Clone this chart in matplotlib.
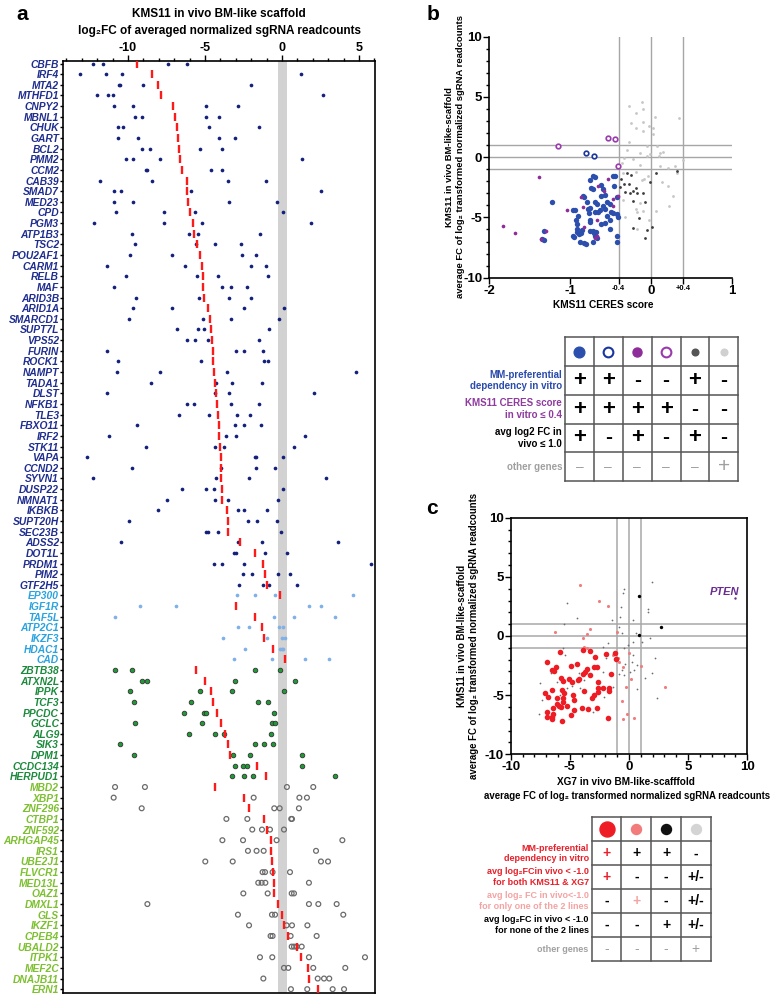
import matplotlib
matplotlib.use("Agg")
import matplotlib.pyplot as plt
import numpy as np
from matplotlib.ticker import MultipleLocator

plt.rcParams["font.family"] = ["Liberation Sans", "DejaVu Sans"]
plt.rcParams["font.weight"] = "bold"

# ---------------- panel a data (log2FC per sgRNA, and mean dash) ----------------
genes_navy = ["CBFB", "IRF4", "MTA2", "MTHFD1", "CNPY2", "MBNL1", "CHUK", "GART", "BCL2", "PMM2",
              "CCM2", "CAB39", "SMAD7", "MED23", "CPD", "PGM3", "ATP1B3", "TSC2", "POU2AF1", "CARM1",
              "RELB", "MAF", "ARID3B", "ARID1A", "SMARCD1", "SUPT7L", "VPS52", "FURIN", "ROCK1", "NAMPT",
              "TADA1", "DLST", "NFKB1", "TLE3", "FBXO11", "IRF2", "STK11", "VAPA", "CCND2", "SYVN1",
              "DUSP22", "NMNAT1", "IKBKB", "SUPT20H", "SEC23B", "ADSS2", "DOT1L", "PRDM1", "PIM2", "GTF2H5"]
sg_navy = [
    [-12.29, -11.65, -7.38, -6.19], [-13.1, -11.4, -10.4, 1.21], [-10.6, -10.5, -9.0, -2.0],
    [-12.0, -11.3, -10.95, 2.68], [-10.9, -9.68, -4.96, -2.86], [-9.55, -9.07, -4.94, -4.07],
    [-10.65, -10.35, -4.74, -1.49], [-10.63, -9.37, -4.07, -3.05], [-9.11, -8.57, -5.32, -3.9],
    [-10.15, -9.68, -7.94, 1.28], [-8.85, -8.77, -4.61, -3.87], [-11.82, -8.42, -3.53, -1.04],
    [-10.93, -10.43, -5.93, 2.51], [-10.89, -9.68, -3.42, -0.35], [-10.8, -7.66, -5.65, 0.04],
    [-12.2, -7.66, -5.22, 1.86], [-9.74, -6.02, -5.43, -1.45], [-9.52, -5.6, -4.33, -2.68],
    [-9.87, -7.16, -2.6, -1.69], [-11.39, -6.3, -2.03, -1.06], [-10.1, -5.5, -4.13, -0.91],
    [-10.9, -3.92, -3.31, -2.29], [-9.5, -5.39, -3.46, -2.03], [-9.68, -7.16, -2.45, 0.15],
    [-9.96, -5.13, -3.29, -0.22], [-6.8, -5.45, -5.09, -0.84], [-6.15, -5.63, -4.81, -1.52],
    [-11.34, -2.97, -2.49, -1.23], [-10.63, -5.26, -1.19, -0.93], [-10.74, -7.94, -3.55, 4.8],
    [-8.5, -4.29, -3.23, -1.28], [-11.39, -4.35, -3.44, 2.08], [-6.17, -5.71, -3.31, -1.49],
    [-6.71, -4.76, -2.9, -2.1], [-9.44, -3.05, -2.49, -1.39], [-11.21, -3.64, -2.99, 1.52],
    [-8.83, -4.33, -3.74, 0.78], [-12.64, -1.75, -1.69, 0.09], [-9.74, -3.98, -1.69, -0.43],
    [-12.25, -4.29, -2.16, 2.88], [-6.52, -4.94, -4.42, 0.09], [-7.45, -4.37, -3.48, -0.24],
    [-8.03, -2.86, -2.45, -0.97], [-9.96, -2.21, -1.62, -0.32], [-4.94, -4.78, -4.13, -0.09],
    [-10.48, -2.84, -1.28, 3.66], [-3.1, -3.0, -1.1, 0.32], [-4.39, -3.9, -2.47, 5.76],
    [-2.55, -1.97, -0.28, 0.54], [-2.81, -1.21, -0.82, 0.95]]
mean_navy = [-9.39, -8.42, -8.03, -7.88, -7.1, -6.93, -6.84, -6.77, -6.71, -6.62,
             -6.52, -6.19, -6.17, -6.08, -6.0, -5.8, -5.69, -5.54, -5.32, -5.22,
             -5.15, -5.11, -5.06, -4.78, -4.68, -4.61, -4.55, -4.5, -4.46, -4.39,
             -4.33, -4.29, -4.2, -4.16, -4.11, -4.07, -4.03, -3.98, -3.96, -3.96,
             -3.92, -3.87, -3.57, -3.53, -3.48, -2.75, -1.75, -1.26, -1.08, -1.0]

genes_lightblue = ["EP300", "IGF1R", "TAF5L", "ATP2C1", "IKZF3", "HDAC1", "CAD"]
sg_lightblue = [
    [-2.94, -1.75, -0.43, 4.59], [-9.2, -6.88, 1.73, 2.51], [-10.84, -0.5, 0.78, 3.46],
    [-2.88, -2.16, -0.17, 0.06], [-3.81, -1.0, 0.0, 0.22], [-2.4, -0.1, -0.02, 0.09],
    [-3.12, -0.67, 1.49, 3.07]]
mean_lightblue = [-0.13, -2.97, -1.77, -1.28, -1.15, -0.61, 0.19]

genes_green = ["ZBTB38", "ATXN2L", "IPPK", "TCF3", "PPCDC", "GCLC", "ALG9", "SIK3", "DPM1",
               "CCDC134", "HERPUD1"]
sg_green = [
    [-10.87, -9.72, -1.75, -0.13], [-9.07, -8.79, -3.03, 0.82], [-9.87, -5.3, -3.23, 0.11],
    [-9.59, -5.91, -1.58, -0.89], [-6.39, -5.06, -4.94, -0.54], [-9.55, -5.19, -0.67, -0.45],
    [-6.06, -4.35, -3.77, -0.74], [-10.54, -1.75, -1.15, -0.56], [-9.63, -3.2, -2.1, 1.32],
    [-3.03, -2.51, -2.27, 1.3], [-3.27, -2.49, -1.88, 3.42]]
mean_green = [-5.61, -5.02, -4.59, -4.48, -4.22, -3.98, -3.7, -3.51, -3.4, -1.62, -1.06]

genes_lightgreen = ["MBD2", "XBP1", "ZNF296", "CTBP1", "ZNF592", "ARHGAP45", "IRS1", "UBE2J1",
                    "FLVCR1", "MED13L", "OAZ1", "DMXL1", "GLS", "IKZF1", "CPEB4", "UBALD2",
                    "ITPK1", "MEF2C", "DNAJB11", "ERN1"]
sg_lightgreen = [
    [-10.84, -8.9, 0.32, 2.03], [-10.93, -1.84, 1.13, 1.62], [-9.11, -0.5, -0.15, 1.1],
    [-3.61, -2.25, 0.6, 0.65], [-1.93, -1.3, -0.78, 0.13], [-3.87, -2.53, -0.35, 3.92],
    [-2.21, -1.65, -1.19, 2.21], [-4.98, -3.2, 2.53, 2.99], [-1.26, -1.1, -0.61, 0.52],
    [-1.54, -1.32, -1.08, 1.75], [-2.51, -0.93, 0.63, 0.78], [-8.74, 1.75, 2.36, 3.55],
    [-2.86, -0.65, -0.45, 3.98], [-2.14, 0.3, 0.65, 1.65], [-0.74, -0.61, 0.56, 2.25],
    [0.63, 0.78, 0.95, 1.28], [-1.43, -0.63, 1.75, 5.39], [0.13, 0.41, 2.03, 4.11],
    [-1.21, 2.32, 2.73, 3.07], [0.58, 1.64, 3.29, 4.03]]
mean_lightgreen = [-4.35, -2.49, -2.16, -1.15, -0.97, -0.74, -0.74, -0.65, -0.61, -0.54,
                   -0.52, -0.28, 0.02, 0.13, 0.37, 0.97, 1.23, 1.67, 1.75, 2.36]

# ---------------- panel b data (CERES score, in vivo avg FC) ----------------
b_blue = [(-1.222, -3.71), (-1.317, -6.11), (-1.345, -6.8), (-1.329, -6.86), (-0.97, -4.37),
          (-0.941, -4.37), (-0.9, -4.87), (-0.838, -3.26), (-0.83, -3.32), (-0.784, -4.29),
          (-0.759, -4.2), (-0.714, -1.55), (-0.693, -1.66), (-0.743, -2.52), (-0.722, -2.63),
          (-0.623, -2.3), (-0.598, -2.66), (-0.569, -3.13), (-0.466, -1.52), (-0.446, -1.55),
          (-0.454, -2.43), (-0.425, -3.32), (-0.693, -3.68), (-0.673, -3.87), (-0.549, -3.73),
          (-0.508, -3.87), (-0.59, -4.09), (-0.569, -4.29), (-0.496, -4.51), (-0.466, -4.65),
          (-0.425, -4.73), (-0.413, -4.98), (-0.693, -4.57), (-0.652, -4.57), (-0.549, -4.92),
          (-0.508, -5.2), (-0.565, -5.48), (-0.623, -5.53), (-0.755, -5.2), (-0.755, -5.39),
          (-0.929, -5.2), (-0.92, -5.53), (-0.92, -5.92), (-0.912, -6.17), (-0.953, -6.64),
          (-0.962, -6.53), (-0.887, -6.39), (-0.867, -6.31), (-0.85, -6.03), (-0.879, -7.0),
          (-0.825, -7.14), (-0.805, -7.22), (-0.755, -6.09), (-0.722, -6.09), (-0.701, -6.31),
          (-0.681, -6.22), (-0.689, -6.58), (-0.714, -7.0), (-0.673, -6.67), (-0.508, -5.92),
          (-0.425, -6.58), (-0.425, -7.0), (-0.788, -3.73), (-0.772, -4.65), (-0.631, -4.37),
          (-0.623, -3.21), (-0.755, -1.88)]
b_blue_open = [(-0.805, 0.33), (-0.70, 0.08)]
b_purple = [(-1.387, -1.63), (-1.828, -5.7), (-1.676, -6.28), (-1.3, -6.14), (-1.362, -6.75),
            (-1.036, -4.37), (-0.867, -3.32), (-0.838, -4.15), (-0.826, -5.81), (-0.652, -2.43),
            (-0.582, -2.79), (-0.537, -1.77), (-0.466, -3.46), (-0.466, -4.09), (-0.673, -5.2),
            (-0.664, -6.58), (-0.693, -6.72), (-0.413, -3.26)]
b_purple_open = [(-1.147, 0.97), (-0.528, 1.63), (-0.446, 1.49), (-0.413, -0.72)]
b_dark = [(-0.371, -1.8), (-0.301, -1.33), (-0.248, -1.47), (-0.334, -2.21), (-0.384, -2.49),
          (-0.268, -2.21), (-0.26, -2.93), (-0.318, -2.9), (-0.219, -2.79), (-0.186, -2.57),
          (-0.169, -2.93), (-0.219, -3.6), (-0.103, -2.99), (-0.074, -3.73), (-0.144, -5.06),
          (-0.227, -5.89), (-0.078, -6.67), (-0.045, -6.03), (0.008, -5.81), (-0.012, -2.02),
          (0.062, -1.27), (0.326, -1.13)]
b_light = [(-0.268, 4.29), (-0.111, 4.62), (-0.095, 3.98), (-0.186, 3.65), (-0.103, 2.96),
           (-0.248, 2.82), (-0.19, 2.41), (-0.103, 2.21), (0.05, 3.37), (0.351, 3.24),
           (-0.021, 2.6), (0.029, 2.46), (0.021, 1.94), (-0.268, 1.24), (-0.054, 0.89),
           (0.07, 0.89), (-0.301, 0.61), (-0.136, 0.33), (-0.054, 0.06), (-0.012, 0.25),
           (0.111, 0.33), (0.153, 0.47), (0.099, 0.06), (-0.334, -0.08), (-0.227, -0.17),
           (-0.363, -0.5), (-0.136, -0.64), (0.111, -0.77), (0.215, -0.91), (0.297, -0.77),
           (0.4, -0.22), (0.318, -1.33), (-0.186, -1.19), (-0.116, -1.88), (-0.087, -1.8),
           (-0.041, -1.6), (0.132, -2.02), (0.215, -2.43), (0.268, -3.26), (0.227, -4.09),
           (0.062, -4.43), (-0.136, -3.82), (-0.177, -4.51), (-0.103, -4.46), (-0.322, -4.98),
           (-0.19, -4.32), (-0.169, -5.98), (-0.021, -5.2), (-0.351, -3.54), (-0.342, -1.33)]

tb_labels = ["MM-preferential\ndependency in vitro", "KMS11 CERES score\nin vitro \u2264 0.4",
             "avg log2 FC in\nvivo \u2264 1.0", "other genes"]
tb_signs = [["+", "+", "-", "-", "+", "-"],
            ["+", "+", "+", "+", "-", "-"],
            ["+", "-", "+", "-", "+", "-"],
            ["-", "-", "-", "-", "-", "+"]]

# ---------------- panel c data (XG7 vs KMS11 in vivo avg FC) ----------------
c_red = [(-6.96, -2.23), (-6.48, -2.87), (-6.34, -2.96), (-6.17, -2.59), (-5.83, -1.32),
         (-4.9, -2.51), (-4.42, -2.39), (-3.86, -1.18), (-3.3, -1.27), (-2.93, -2.59),
         (-2.68, -2.65), (-3.58, -2.79), (-3.72, -3.01), (-3.86, -3.18), (-5.04, -3.63),
         (-4.85, -3.92), (-4.28, -3.72), (-4.2, -3.63), (-5.77, -3.52), (-5.55, -3.77),
         (-7.07, -4.85), (-6.85, -5.18), (-6.51, -4.56), (-6.11, -5.27), (-5.66, -4.54),
         (-5.46, -4.85), (-5.55, -5.21), (-5.61, -5.61), (-6.06, -5.77), (-5.89, -5.89),
         (-5.77, -5.97), (-6.45, -6.06), (-6.96, -6.39), (-6.96, -6.82), (-6.54, -6.82),
         (-6.39, -6.62), (-6.48, -7.01), (-5.63, -7.18), (-5.21, -5.89), (-4.7, -4.99),
         (-4.65, -5.41), (-4.93, -6.68), (-4.65, -6.25), (-4.0, -6.06), (-3.49, -6.2),
         (-3.8, -4.62), (-3.15, -5.21), (-2.93, -4.99), (-2.73, -6.11), (-2.59, -3.86),
         (-2.59, -4.37), (-2.59, -4.7), (-2.17, -4.37), (-1.69, -4.42), (-1.66, -4.62),
         (-1.75, -6.96), (-1.97, -1.55), (-1.18, -1.46), (-1.13, -1.97), (-1.55, -3.21),
         (-2.87, -1.8), (-3.3, -3.3)]
c_pink = [(-4.14, 4.31), (-2.51, 2.96), (-1.75, 2.56), (-6.28, 0.37), (-3.3, 0.56),
          (-3.58, 0.14), (-3.86, -0.2), (-3.8, -0.9), (-3.52, -0.99), (-1.04, 0.31),
          (-0.82, -2.17), (-0.48, -2.59), (0.03, -1.46), (0.14, -3.66), (1.01, -2.51),
          (3.04, -4.28), (-0.25, -4.28), (-0.62, -5.46), (-0.14, -6.56), (-0.48, -7.04),
          (0.39, -6.96), (-1.32, -1.61), (-0.9, -1.89)]
c_black = [(0.87, 3.35), (2.68, 0.73), (0.85, 0.08)]
c_gray = [(-5.21, 2.76), (-4.37, 1.49), (-5.46, 0.99), (-0.39, 3.97), (-0.54, 3.61),
          (1.92, 4.59), (-0.7, 2.48), (-0.76, 1.63), (0.37, 1.35), (1.58, 2.28), (1.58, 2.0),
          (-1.44, 1.35), (-0.82, 0.79), (-0.59, 0.23), (0.59, 0.28), (0.37, -0.48),
          (-0.06, -0.76), (-0.42, -1.04), (1.07, -0.48), (1.77, -0.14), (2.2, -1.83),
          (1.92, -3.15), (1.35, -3.58), (0.65, -4.48), (2.34, -5.27), (-1.75, -0.62),
          (-2.17, -0.9), (-1.94, -1.89), (-0.82, -3.24), (-0.42, -3.3), (-1.32, -4.28),
          (-5.55, -0.99), (-5.41, -1.61), (-6.59, -3.15), (-7.52, -3.94), (-7.38, -5.41),
          (-7.58, -6.62), (-5.27, -4.42), (-4.85, -4.23), (-4.23, -3.15), (-4.14, -4.42),
          (-3.77, -3.72), (-2.17, -3.01), (-3.01, -6.39), (-2.73, -4.0), (-2.11, -5.13),
          (-6.11, -3.86), (-5.83, -4.99), (0.37, -1.61), (0.23, -2.17), (0.42, -2.87),
          (0.7, -2.45), (-0.31, -2.39), (-0.62, -2.87), (0.08, -3.01)]
c_pten = (8.96, 3.18)

tc_labels = ["MM-preferential\ndependency in vitro",
             "avg log\u2082FCin vivo < -1.0\nfor both KMS11 & XG7",
             "avg log\u2082 FC in vivo<-1.0\nfor only one of the 2 lines",
             "avg log\u2082FC in vivo < -1.0\nfor none of the 2 lines",
             "other genes"]
tc_signs = [["+", "+", "+", "-"],
            ["+", "-", "-", "+/-"],
            ["-", "+", "-", "+/-"],
            ["-", "-", "+", "+/-"],
            ["-", "-", "-", "+"]]

# ---------------- figure ----------------
W, H = 775, 996


def px_box(x0, y0, x1, y1):
    return [x0 / W, 1 - y1 / H, (x1 - x0) / W, (y1 - y0) / H]


fig = plt.figure(figsize=(W / 100, H / 100), dpi=100)

# ===== panel a =====
ax = fig.add_axes(px_box(63, 61, 375, 993))
ax.axvspan(-0.25, 0.3, color="#d2d2d2", zorder=0, lw=0)

groups = [
    (genes_navy, sg_navy, mean_navy, "#1f2d8f",
     dict(s=7, color="#14207a", lw=0)),
    (genes_lightblue, sg_lightblue, mean_lightblue, "#29a3e0",
     dict(s=7, color="#7fb0e8", lw=0)),
    (genes_green, sg_green, mean_green, "#1b8a3c",
     dict(s=11, color="#1f9a35", edgecolor="#333333", lw=0.6)),
    (genes_lightgreen, sg_lightgreen, mean_lightgreen, "#7dc02f",
     dict(s=12, facecolor="none", edgecolor="#6b6b6b", lw=0.9)),
]

all_labels, label_colors = [], []
row = 0
for genes, dots, means, lab_col, style in groups:
    for g, vals, m in zip(genes, dots, means):
        ax.scatter(vals, [row] * len(vals), zorder=3, **style)
        ax.plot([m], [row], marker="|", ms=5.5, mew=1.7, color="#ff1a1a", zorder=4)
        all_labels.append(g)
        label_colors.append(lab_col)
        row += 1

ax.set_xlim(-14.22, 6.04)
ax.set_ylim(87.36, -0.235)
ax.xaxis.tick_top()
ax.set_xticks([-10, -5, 0, 5])
ax.set_xticklabels(["-10", "-5", "0", "5"], fontsize=9, fontweight="bold")
ax.xaxis.set_minor_locator(MultipleLocator(1))
ax.tick_params(axis="x", which="major", length=4, width=1, pad=1)
ax.tick_params(axis="x", which="minor", length=2.2, width=1)
ax.set_yticks(range(len(all_labels)))
ax.set_yticklabels(all_labels, fontsize=7.4, fontweight="bold", fontstyle="italic")
for t, c in zip(ax.get_yticklabels(), label_colors):
    t.set_color(c)
ax.tick_params(axis="y", length=2, width=1, pad=0.8)
for sp in ax.spines.values():
    sp.set_linewidth(1.2)

fig.text(219 / W, 1 - 14 / H, "KMS11 in vivo BM-like scaffold", ha="center", va="center",
         fontsize=8.5, fontweight="bold")
fig.text(219 / W, 1 - 31 / H, "log\u2082FC of averaged normalized sgRNA readcounts", ha="center",
         va="center", fontsize=8.5, fontweight="bold")
fig.text(22 / W, 1 - 14 / H, "a", ha="center", va="center", fontsize=15, fontweight="bold")

# ===== panel b =====
bx = fig.add_axes(px_box(489.3, 36.7, 731.7, 277.7))
for yv in (-1, 0, 1):
    bx.axhline(yv, color="#a6a6a6", lw=1, zorder=1)
for xv in (-0.4, 0, 0.4):
    bx.axvline(xv, color="#a6a6a6", lw=1, zorder=1)


def xy(pts):
    arr = np.array(pts)
    return arr[:, 0], arr[:, 1]


bx.scatter(*xy(b_light), s=4, color="#c6c6c6", lw=0, zorder=2)
bx.scatter(*xy(b_dark), s=4, color="#3c3c3c", lw=0, zorder=2)
bx.scatter(*xy(b_blue), s=15, color="#2c4fae", lw=0, zorder=3)
bx.scatter(*xy(b_purple), s=7, color="#8e2c9a", lw=0, zorder=4)
bx.scatter(*xy(b_blue_open), s=11, facecolor="white", edgecolor="#1a35a0", lw=1.2, zorder=4)
bx.scatter(*xy(b_purple_open), s=11, facecolor="white", edgecolor="#9a3aae", lw=1.2, zorder=4)

bx.set_xlim(-2, 1)
bx.set_ylim(-10, 10)
bx.spines["top"].set_visible(False)
bx.spines["right"].set_visible(False)
for sp in ("left", "bottom"):
    bx.spines[sp].set_linewidth(1.2)
bx.set_xticks([-2, -1, -0.4, 0, 0.4, 1])
bx.set_xticklabels(["-2", "-1", "-0.4", "0", "+0.4", "1"], fontweight="bold")
for i, t in enumerate(bx.get_xticklabels()):
    t.set_fontsize(5.5 if i in (2, 4) else 9.5)
bx.set_yticks([-10, -5, 0, 5, 10])
bx.set_yticklabels(["-10", "-5", "0", "5", "10"], fontsize=9.5, fontweight="bold")
bx.yaxis.set_minor_locator(MultipleLocator(1))
bx.tick_params(which="major", length=4, width=1, pad=1)
bx.tick_params(which="minor", length=2, width=1)

fig.text(603 / W, 1 - 305 / H, "KMS11 CERES score", ha="center", va="center", fontsize=7.3,
         fontweight="bold")
fig.text(455 / W, 1 - 157 / H,
         "KMS11 in vivo BM-like-scaffold\naverage FC of log\u2082 transformed normalized sgRNA readcounts",
         rotation=90, ha="center", va="center", fontsize=6.8, fontweight="bold",
         multialignment="center")
fig.text(433 / W, 1 - 14 / H, "b", ha="center", va="center", fontsize=15, fontweight="bold")

# ===== table b =====
tbx = fig.add_axes(px_box(565, 337.3, 738.3, 481))
tbx.set_xlim(0, 6)
tbx.set_ylim(5, 0)
tbx.axis("off")
for k in range(7):
    tbx.plot([k, k], [0, 5], color="#555555", lw=1.1, clip_on=False)
for k in range(6):
    tbx.plot([0, 6], [k, k], color="#555555", lw=1.1, clip_on=False)
tbx.plot(0.5, 0.5, "o", ms=7.7, color="#2c4fae")
tbx.plot(1.5, 0.5, "o", ms=7.0, mfc="white", mec="#1a35a0", mew=1.5)
tbx.plot(2.5, 0.5, "o", ms=6.5, color="#8e2c9a")
tbx.plot(3.5, 0.5, "o", ms=7.0, mfc="white", mec="#9a3aae", mew=1.5)
tbx.plot(4.5, 0.5, "o", ms=4.8, color="#555555")
tbx.plot(5.5, 0.5, "o", ms=4.8, color="#d0d0d0")
tb_colors = ["#2a4bab", "#8e3a9e", "black", "#a0a0a0"]
for r, (lab, signs, col) in enumerate(zip(tb_labels, tb_signs, tb_colors)):
    yc = r + 1.5
    tbx.text(-0.1, yc, lab, ha="right", va="center", fontsize=7, fontweight="bold",
             color=col, linespacing=1.2)
    for ci, s in enumerate(signs):
        if r == 3:
            tbx.text(ci + 0.5, yc, "+" if s == "+" else "\u2013", ha="center", va="center",
                     fontsize=15 if s == "+" else 10, fontweight="normal", color="#a0a0a0")
        else:
            tbx.text(ci + 0.5, yc, s, ha="center", va="center", fontsize=16 if s == "+" else 15,
                     fontweight="bold", color="black")

# ===== panel c =====
cx = fig.add_axes(px_box(510.7, 517.7, 747.3, 754.3))
for v in (-1, 0, 1):
    cx.axhline(v, color="#a8a8a8", lw=1.1, zorder=1)
    cx.axvline(v, color="#a8a8a8", lw=1.1, zorder=1)
cx.scatter(*xy(c_gray), s=1.6, color="#6e6e6e", lw=0, zorder=2)
cx.scatter(*xy(c_pink), s=5, color="#f27b7b", lw=0, zorder=3)
cx.scatter(*xy(c_red), s=16, color="#ee1c24", lw=0, zorder=4)
cx.scatter(*xy(c_black), s=6, color="black", lw=0, zorder=4)
cx.scatter([c_pten[0]], [c_pten[1]], s=3, color="#6a2c91", lw=0, zorder=4)
cx.text(8.1, 3.7, "PTEN", ha="center", va="center", fontsize=8, fontweight="bold",
        fontstyle="italic", color="#6a2c91")
cx.set_xlim(-10, 10)
cx.set_ylim(-10, 10)
for sp in cx.spines.values():
    sp.set_linewidth(1.2)
cx.set_xticks([-10, -5, 0, 5, 10])
cx.set_yticks([-10, -5, 0, 5, 10])
cx.set_xticklabels(["-10", "-5", "0", "5", "10"], fontsize=9.5, fontweight="bold")
cx.set_yticklabels(["-10", "-5", "0", "5", "10"], fontsize=9.5, fontweight="bold")
cx.xaxis.set_minor_locator(MultipleLocator(1))
cx.yaxis.set_minor_locator(MultipleLocator(1))
cx.tick_params(which="major", length=4, width=1, pad=1)
cx.tick_params(which="minor", length=2, width=1)

fig.text(626 / W, 1 - 782 / H, "XG7 in vivo BM-like-scafffold", ha="center", va="center",
         fontsize=7.2, fontweight="bold")
fig.text(627 / W, 1 - 796 / H, "average FC of log\u2082 transformed normalized sgRNA readcounts",
         ha="center", va="center", fontsize=6.9, fontweight="bold")
fig.text(468 / W, 1 - 636 / H,
         "KMS11 in vivo BM-like-scaffold\naverage FC of log\u2082 transformed normalized sgRNA readcounts",
         rotation=90, ha="center", va="center", fontsize=6.9, fontweight="bold",
         multialignment="center")
fig.text(432 / W, 1 - 509 / H, "c", ha="center", va="center", fontsize=15, fontweight="bold")

# ===== table c =====
tcx = fig.add_axes(px_box(591.7, 817.3, 710.7, 961))
tcx.set_xlim(0, 4)
tcx.set_ylim(6, 0)
tcx.axis("off")
for k in range(5):
    tcx.plot([k, k], [0, 6], color="#555555", lw=1.1, clip_on=False)
for k in range(7):
    tcx.plot([0, 4], [k, k], color="#555555", lw=1.1, clip_on=False)
tcx.plot(0.5, 0.5, "o", ms=10.8, color="#ee1c24")
tcx.plot(1.5, 0.5, "o", ms=7.2, color="#f27b7b")
tcx.plot(2.5, 0.5, "o", ms=7.2, color="#111111")
tcx.plot(3.5, 0.5, "o", ms=7.2, color="#d4d4d4")
tc_colors = ["#e8202a", "#e8202a", "#f4a3a3", "black", "#a0a0a0"]
for r, (lab, signs, col) in enumerate(zip(tc_labels, tc_signs, tc_colors)):
    yc = r + 1.5
    tcx.text(-0.1, yc, lab, ha="right", va="center", fontsize=6.5, fontweight="bold",
             color=col, linespacing=1.2)
    for ci, s in enumerate(signs):
        sc = "black"
        if r == 4:
            sc = "#a0a0a0"
        elif (r, ci) in ((0, 0), (1, 0)):
            sc = "#e8202a"
        elif (r, ci) == (2, 1):
            sc = "#f4a3a3"
        tcx.text(ci + 0.5, yc, s, ha="center", va="center", fontsize=10,
                 fontweight="normal" if r == 4 else "bold", color=sc)

fig.savefig("out.png", dpi=100)
